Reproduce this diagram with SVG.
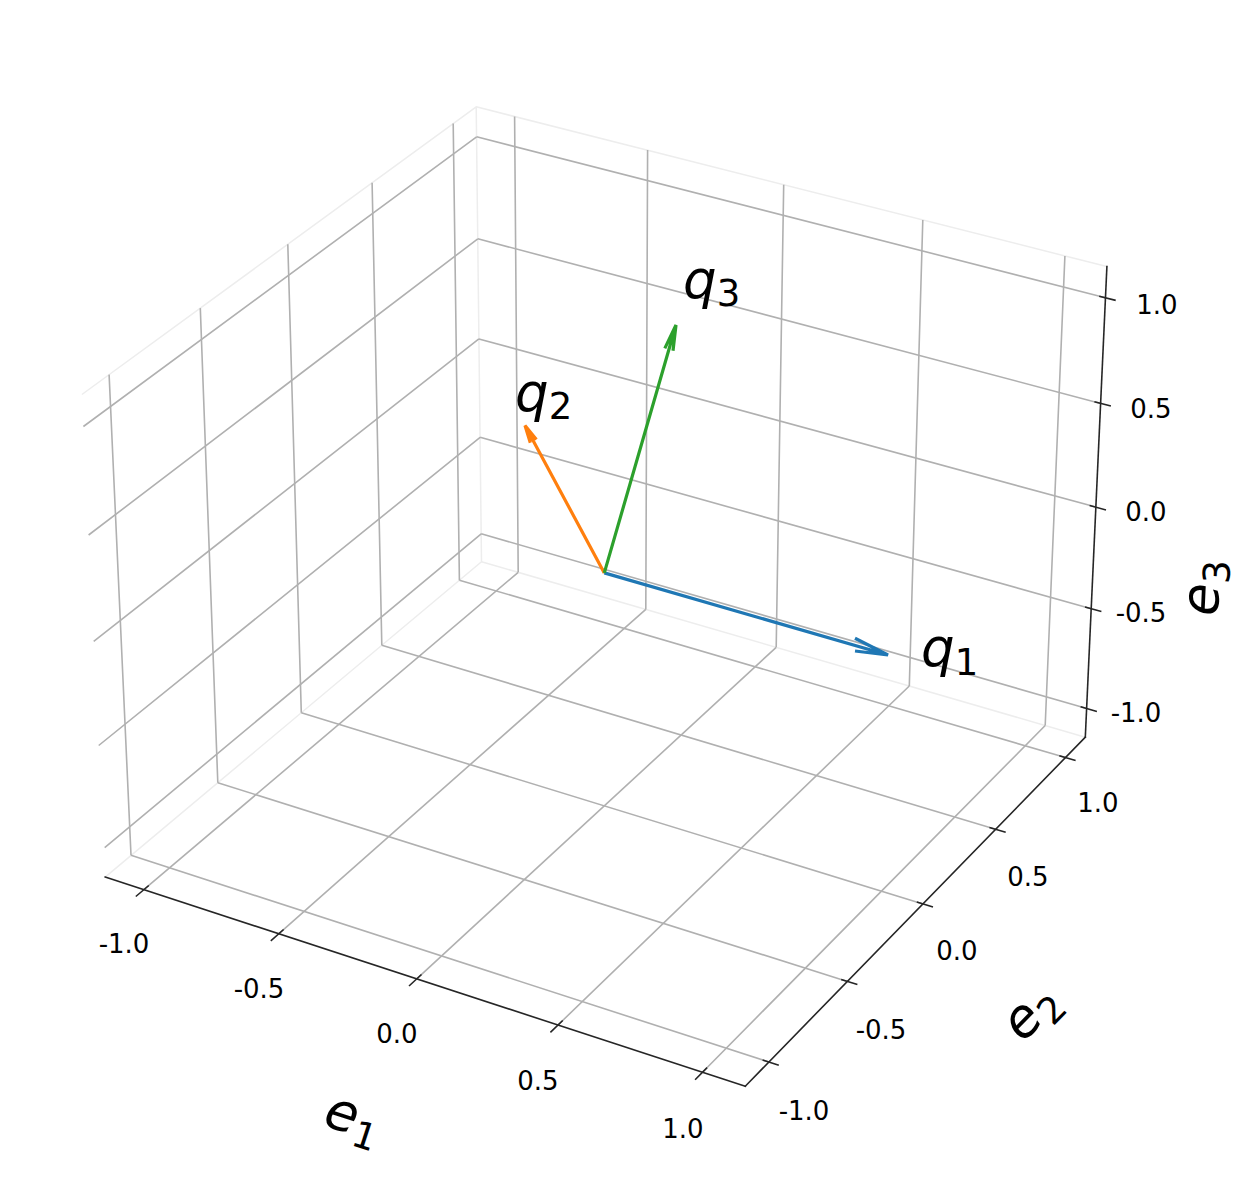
<svg xmlns="http://www.w3.org/2000/svg" width="1252" height="1178" viewBox="0 0 1252 1178">
<style>
.pane{fill:none;stroke:#ededed;stroke-width:1.5;stroke-linejoin:round}
.grid{stroke:#b0b0b0;stroke-width:1.6;fill:none}
.axis{stroke:#262626;stroke-width:1.6;fill:none;stroke-linecap:square}
.tick{stroke:#262626;stroke-width:1.6}
.tl{font-family:"DejaVu Sans",sans-serif;font-size:26px;fill:#000;text-anchor:middle}
.lab{font-family:"DejaVu Sans",sans-serif;font-size:53px;fill:#000;font-style:italic}
.sub{font-style:normal;font-size:37px}
.arrow{fill:none;stroke-width:3.2;stroke-linecap:butt;stroke-linejoin:miter}
</style>
<rect width="1252" height="1178" fill="#fff"/>
<g id="panes">
<polyline class="pane" points="105.2,877.1 481.5,561.7 476.2,106.8 81.9,394.5"/>
<polyline class="pane" points="481.5,561.7 1085.3,737.2"/>
<polyline class="pane" points="476.2,106.8 1106.9,266.6"/>
</g>
<g id="grid" class="grid">
<path d="M131.0,855.3L109.1,374.6M217.8,782.7L200.3,308.1M301.3,712.7L287.8,244.2M381.8,645.2L372.1,182.7M459.4,580.2L453.2,123.6"/>
<path d="M104.7,847.6L481.2,533.8M98.7,745.5L480.1,437.3M93.7,641.3L478.9,338.9M88.6,535.0L477.8,238.8M83.4,426.5L476.6,136.8"/>
<path d="M518.2,572.3L514.6,116.4M645.8,609.4L647.6,150.1M776.2,647.3L783.7,184.7M909.3,686.0L922.8,219.9M1045.2,725.5L1064.9,256.0"/>
<path d="M481.2,533.8L1086.8,708.5M480.1,437.3L1091.3,608.7M478.9,338.9L1095.9,507.1M477.8,238.8L1100.7,403.4M476.6,136.8L1105.5,297.8"/>
<path d="M143.8,889.7L518.2,572.3M278.7,933.8L645.8,609.4M416.7,978.9L776.2,647.3M558.0,1025.0L909.3,686.0M702.5,1072.2L1045.2,725.5"/>
<path d="M131.0,855.3L768.8,1062.0M217.8,782.7L847.4,981.4M301.3,712.7L923.0,903.9M381.8,645.2L995.6,829.3M459.4,580.2L1065.5,757.6"/>
</g>
<g id="axis-e1">
<line class="axis" x1="105.2" y1="877.1" x2="745.3" y2="1086.2"/>
<path class="tick" d="M148.8,885.5L135.8,896.5M283.6,929.5L270.8,940.8M421.5,974.5L409.0,986.0M562.7,1020.5L550.4,1032.3M707.1,1067.6L695.1,1079.7"/>
<text class="tl" x="124" y="952.7">-1.0</text>
<text class="tl" x="259" y="997.7">-0.5</text>
<text class="tl" x="397" y="1042.7">0.0</text>
<text class="tl" x="538" y="1089.7">0.5</text>
<text class="tl" x="683" y="1137.7">1.0</text>
<text class="lab" x="351" y="1134" text-anchor="middle" transform="rotate(18.1 351 1125)">e<tspan class="sub" dy="10">1</tspan></text>
</g>
<g id="axis-e2">
<line class="axis" x1="745.3" y1="1086.2" x2="1085.3" y2="737.2"/>
<path class="tick" d="M762.6,1060.0L778.8,1065.2M841.2,979.4L857.4,984.6M916.8,902.0L933.0,907.0M989.4,827.4L1005.7,832.3M1059.3,755.8L1075.6,760.6"/>
<text class="tl" x="804" y="1119.7">-1.0</text>
<text class="tl" x="881" y="1038.7">-0.5</text>
<text class="tl" x="957" y="959.7">0.0</text>
<text class="tl" x="1028" y="885.7">0.5</text>
<text class="tl" x="1098" y="811.7">1.0</text>
<text class="lab" x="1036" y="1026" text-anchor="middle" transform="rotate(-45.7 1036 1017)">e<tspan class="sub" dy="10">2</tspan></text>
</g>
<g id="axis-e3">
<line class="axis" x1="1085.3" y1="737.2" x2="1106.9" y2="266.6"/>
<path class="tick" d="M1080.6,706.7L1096.9,711.4M1085.0,606.9L1101.4,611.5M1089.6,505.4L1106.0,509.9M1094.4,401.7L1110.9,406.1M1099.2,296.2L1115.7,300.4"/>
<text class="tl" x="1157" y="313.7">1.0</text>
<text class="tl" x="1151" y="417.7">0.5</text>
<text class="tl" x="1146" y="520.7">0.0</text>
<text class="tl" x="1141" y="621.7">-0.5</text>
<text class="tl" x="1136" y="721.7">-1.0</text>
<text class="lab" x="1210" y="597" text-anchor="middle" transform="rotate(-87.4 1210 588)">e<tspan class="sub" dy="10">3</tspan></text>
</g>
<g id="q1">
<path class="arrow" stroke="#1f77b4" d="M604.3,572.9L888,655M855,638.3L888,655L855,651"/>
<text class="lab" x="921" y="666">q<tspan class="sub" dy="9">1</tspan></text>
</g>
<g id="q2">
<path class="arrow" stroke="#ff7f0e" d="M604.3,572.9L525,425.5M530.3,442.7L525,425.5L536.4,439.4"/>
<text class="lab" x="515" y="411">q<tspan class="sub" dy="8">2</tspan></text>
</g>
<g id="q3">
<path class="arrow" stroke="#2ca02c" d="M604.3,572.9L676,325M664.8,348.4L676,325L673,350.8"/>
<text class="lab" x="683" y="298">q<tspan class="sub" dy="8">3</tspan></text>
</g>
</svg>
